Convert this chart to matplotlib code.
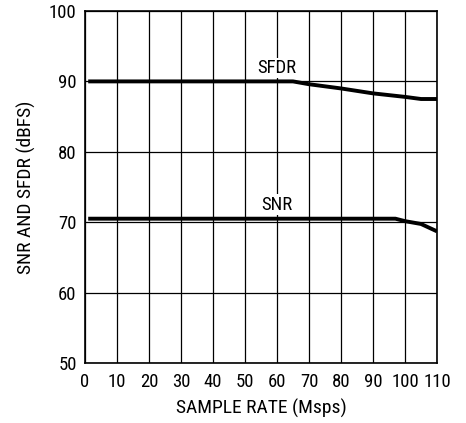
import matplotlib
matplotlib.use("Agg")
import matplotlib.pyplot as plt

plt.rcParams['font.family'] = ['Roboto Condensed', 'Liberation Sans', 'DejaVu Sans']

# SFDR and SNR vs sample rate
sfdr_x = [1, 65, 70, 80, 90, 100, 105, 110]
sfdr_y = [90.0, 90.0, 89.6, 89.0, 88.3, 87.8, 87.5, 87.5]
snr_x = [1, 97, 100, 105, 110]
snr_y = [70.5, 70.5, 70.15, 69.75, 68.7]

xticks = list(range(0, 111, 10))
yticks = list(range(50, 101, 10))

fig = plt.figure(figsize=(4.66, 4.23), dpi=100)
ax = fig.add_axes([0.1824, 0.1418, 0.7554, 0.8322])

ax.set_xlim(0, 110)
ax.set_ylim(50, 100)
ax.set_xticks(xticks)
ax.set_yticks(yticks)
ax.grid(True, color='black', linewidth=0.9)
ax.tick_params(length=0, labelsize=13.5)
ax.tick_params(axis='x', pad=7)
ax.tick_params(axis='y', pad=6)
for s in ax.spines.values():
    s.set_linewidth(1.2)

ax.plot(sfdr_x, sfdr_y, color='black', linewidth=2.8, solid_capstyle='butt', zorder=3)
ax.plot(snr_x, snr_y, color='black', linewidth=2.8, solid_capstyle='butt', zorder=3)

ax.text(60, 91.9, 'SFDR', ha='center', va='center', fontsize=13.5,
        bbox=dict(facecolor='white', edgecolor='none', pad=1), zorder=4)
ax.text(60, 72.5, 'SNR', ha='center', va='center', fontsize=13.5,
        bbox=dict(facecolor='white', edgecolor='none', pad=1), zorder=4)

ax.set_xlabel('SAMPLE RATE (Msps)', fontsize=14, labelpad=6)
ax.set_ylabel('SNR AND SFDR (dBFS)', fontsize=14, labelpad=9)

fig.savefig('out.png', dpi=100)
